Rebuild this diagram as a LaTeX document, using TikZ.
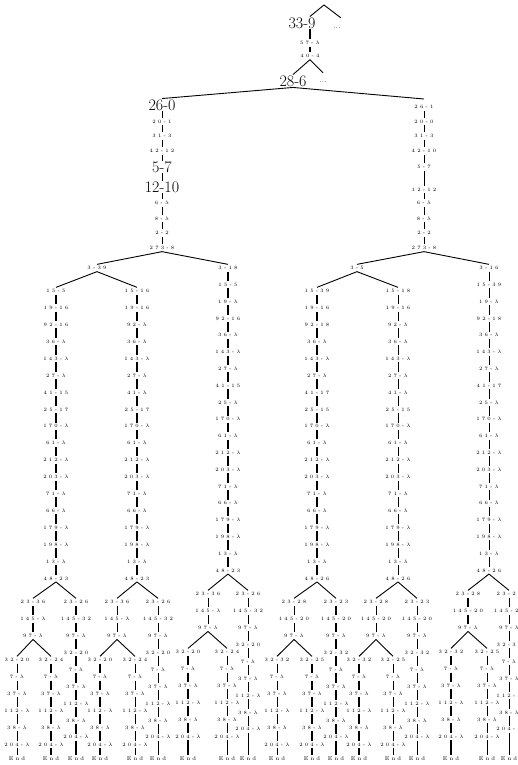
\documentclass[tikz,border=0pt]{standalone}
\usetikzlibrary{calc}
\makeatletter
\newcommand\lsp[1]{\@tfor\lsptok:=#1\do{\lsptok\kern\lspk}\unkern}
\makeatother
\newcommand\lspx[1]{\expandafter\lsp\expandafter{#1}}
\def\lspk{2.15pt}
\newcommand\lam{$\lambda$}
\newcommand\smf{\fontsize{5}{6}\selectfont}
\newcommand\bgf{\fontsize{16}{18}\selectfont}
\tikzset{
  sm/.style={font=\smf, inner xsep=0.5pt, inner ysep=1.7pt, text height=3.5pt, text depth=0pt},
  bg/.style={font=\bgf, inner xsep=1pt, inner ysep=1pt, text height=10.5pt, text depth=0pt},
  endn/.style={font=\fontsize{5.5}{6}\selectfont, inner sep=1pt, text height=3.8pt, text depth=0pt},
  dots/.style={font=\fontsize{7.5}{8}\selectfont, inner xsep=0pt, inner ysep=1pt, text height=1.2pt, text depth=0pt},
  thk/.style={line width=2pt},
  thn/.style={line width=0.8pt},
  br/.style={line width=0.9pt},
}
\def\setst#1/#2/#3/#4\relax{\tikzset{stLC/.style={#1},stA/.style={#2},stB/.style={#3},stRC/.style={#4}}}
% chain: name, x, y0, dy, style, labels
\newcommand\chain[6]{%
  \foreach \lab [count=\i] in {#6} {%
    \node[sm] (#1-\i) at (#2,{#3+(\i-1)*#4}) {\lspx\lab};
    \ifnum\i>1
      \pgfmathtruncatemacro\j{\i-1}
      \draw[#5] (#1-\j) -- (#1-\i);
    \fi
  }%
}
% leaf chain ending in End: name, x, y0, style, first label
\newcommand\leafc[5]{%
  \chain{#1}{#2}{#3}{16.9}{#4}{#5,7-\lam,37-\lam,112-\lam,38-\lam,204-\lam}
  \node[endn] (#1-E) at (#2,758.5) {\lsp{End}};
  \draw[#4] (#1-6) -- (#1-E);
}
% right chain ending in End: name, x, y0, style, first four labels
\newcommand\rchain[5]{%
  \chain{#1}{#2}{#3}{16.9}{#4}{#5,7-\lam,37-\lam,112-\lam,38-\lam,204-\lam}
  \node[endn] (#1-E) at (#2,758.5) {\lsp{End}};
  \draw[#4] (#1-9) -- (#1-E);
}
% subtrees: name, parent, yLC, xLC, xA, xB, xRC, styles
\newcommand\subL[8]{%
  \setst#8\relax
  \chain{#1c}{#4}{#3}{16.9}{stLC}{23-36,145-\lam,97-\lam}
  \leafc{#1a}{#5}{#3+58}{stA}{32-20}
  \leafc{#1b}{#6}{#3+58}{stB}{32-24}
  \rchain{#1r}{#7}{#3}{stRC}{23-26,145-32,97-\lam,32-20}
  \draw[br] (#2.south) -- (#1c-1.north);
  \draw[br] (#2.south) -- (#1r-1.north);
  \draw[br] (#1c-3.south) -- (#1a-1.north);
  \draw[br] (#1c-3.south) -- (#1b-1.north);
}
\newcommand\subR[8]{%
  \setst#8\relax
  \chain{#1c}{#4}{#3}{16.9}{stLC}{23-28,145-20,97-\lam}
  \leafc{#1a}{#5}{#3+58}{stA}{32-32}
  \leafc{#1b}{#6}{#3+58}{stB}{32-25}
  \rchain{#1r}{#7}{#3}{stRC}{23-23,145-20,97-\lam,32-32}
  \draw[br] (#2.south) -- (#1c-1.north);
  \draw[br] (#2.south) -- (#1r-1.north);
  \draw[br] (#1c-3.south) -- (#1a-1.north);
  \draw[br] (#1c-3.south) -- (#1b-1.north);
}
\begin{document}
\begin{tikzpicture}[x=1pt,y=-1pt]
\useasboundingbox (0,0) rectangle (517,765);
\clip (0,0) rectangle (517,765);
% ---- top
\coordinate (apex) at (324,5);
\node[bg] (n339) at (302,23) {33-9};
\node[dots, minimum height=20pt] (d1) at (337,28) {.\kern0.3pt.\kern0.3pt.};
\node[sm] (n57) at (310,43) {\lsp{57-\lam}};
\node[sm] (n404) at (310,56) {\lsp{40-4}};
\node[bg] (n286) at (293,81) {28-6};
\node[dots, minimum height=18pt] (d2) at (323,82) {.\kern0.3pt.\kern0.3pt.};
\draw[br] (apex) -- (n339);
\draw[br] (apex) -- (d1.north east);
\draw[thk] (n57) -- (n57 |- n339.south);
\draw[thk] (n57) -- (n404);
\draw[br] (n404.south) -- (n286.north);
\draw[br] (n404.south) -- (d2.north);
% ---- left upper chain
\node[bg] (a1) at (162,105) {26-0};
\node[sm] (a2) at (162,121.5) {\lsp{20-1}};
\node[sm] (a3) at (162,136) {\lsp{31-3}};
\node[sm] (a4) at (162,151) {\lsp{42-12}};
\node[bg] (a5) at (162,167) {5-7};
\node[bg] (a6) at (162,187) {12-10};
\node[sm] (a7) at (162,203) {\lsp{6-\lam}};
\node[sm] (a8) at (162,218.5) {\lsp{8-\lam}};
\node[sm] (a9) at (162,233) {\lsp{2-2}};
\node[sm] (a10) at (162,248) {\lsp{273-8}};
\foreach \p/\q in {a1/a2,a2/a3,a3/a4,a4/a5,a5/a6,a6/a7,a7/a8,a8/a9,a9/a10}
  \draw[thn] (\p) -- (\q);
% ---- right upper chain
\node[sm, text height=8pt, anchor=north] (b1) at (424,99) {\lsp{26-1}};
\node[sm] (b2) at (424,121.5) {\lsp{20-0}};
\node[sm] (b3) at (424,136) {\lsp{31-3}};
\node[sm] (b4) at (424,151) {\lsp{42-10}};
\node[sm] (b5) at (424,167) {\lsp{5-7}};
\node[sm] (b6) at (424,189.5) {\lsp{12-12}};
\node[sm] (b7) at (424,203) {\lsp{6-\lam}};
\node[sm] (b8) at (424,218.5) {\lsp{8-\lam}};
\node[sm] (b9) at (424,233) {\lsp{2-2}};
\node[sm] (b10) at (424,248) {\lsp{273-8}};
\foreach \p/\q in {b1/b2,b2/b3,b3/b4,b4/b5,b5/b6,b6/b7,b7/b8,b8/b9,b9/b10}
  \draw[thn] (\p) -- (\q);
\draw[br] (n286.south) -- (a1.north);
\draw[br] (n286.south) -- (b1.north);
% ---- level 3
\node[sm] (c339) at (97,268) {\lsp{3-39}};
\node[sm] (c35) at (357,268) {\lsp{3-5}};
% ---- columns
\chain{cL1}{56}{291}{16.9}{thk}{15-5,19-16,92-16,36-\lam,143-\lam,27-\lam,41-15,25-17,170-\lam,61-\lam,212-\lam,203-\lam,71-\lam,66-\lam,179-\lam,198-\lam,13-\lam,48-23}
\chain{cL2}{137}{291}{16.9}{thk}{15-16,19-16,92-\lam,36-\lam,143-\lam,27-\lam,41-\lam,25-17,170-\lam,61-\lam,212-\lam,203-\lam,71-\lam,66-\lam,179-\lam,198-\lam,13-\lam,48-23}
\chain{cL3}{228}{268}{16.8}{thk}{3-18,15-5,19-\lam,92-16,36-\lam,143-\lam,27-\lam,41-15,25-\lam,170-\lam,61-\lam,212-\lam,203-\lam,71-\lam,66-\lam,179-\lam,198-\lam,13-\lam,48-23}
\chain{cR1}{317}{291}{16.9}{thk}{15-39,19-16,92-18,36-\lam,143-\lam,27-\lam,41-17,25-15,170-\lam,61-\lam,212-\lam,203-\lam,71-\lam,66-\lam,179-\lam,198-\lam,13-\lam,48-26}
\chain{cR2}{398}{291}{16.9}{thn}{15-18,19-16,92-\lam,36-\lam,143-\lam,27-\lam,41-\lam,25-15,170-\lam,61-\lam,212-\lam,203-\lam,71-\lam,66-\lam,179-\lam,198-\lam,13-\lam,48-26}
\chain{cR3}{489}{268}{16.8}{thn}{3-16,15-39,19-\lam,92-18,36-\lam,143-\lam,27-\lam,41-17,25-\lam,170-\lam,61-\lam,212-\lam,203-\lam,71-\lam,66-\lam,179-\lam,198-\lam,13-\lam,48-26}
\draw[br] (a10.south) -- (c339.north);
\draw[br] (a10.south) -- (cL3-1.north);
\draw[br] (b10.south) -- (c35.north);
\draw[br] (b10.south) -- (cR3-1.north);
\draw[br] (c339.south) -- (cL1-1.north);
\draw[br] (c339.south) -- (cL2-1.north);
\draw[br] (c35.south) -- (cR1-1.north);
\draw[br] (c35.south) -- (cR2-1.north);
% ---- bottom subtrees
\subL{sL1}{cL1-18}{602}{33}{17}{51}{76}{thk/thn/thk/thk}
\subL{sL2}{cL2-18}{602}{117}{100}{135}{158}{thn/thk/thn/thn}
\subL{sL3}{cL3-19}{594}{208}{188}{227}{248}{thn/thk/thn/thn}
\subR{sR1}{cR1-18}{602}{294}{277}{312}{336}{thn/thn/thk/thk}
\subR{sR2}{cR2-18}{602}{376}{359}{393}{417}{thn/thk/thn/thn}
\subR{sR3}{cR3-19}{594}{468}{451}{487}{509}{thk/thk/thn/thn}
\end{tikzpicture}
\end{document}
